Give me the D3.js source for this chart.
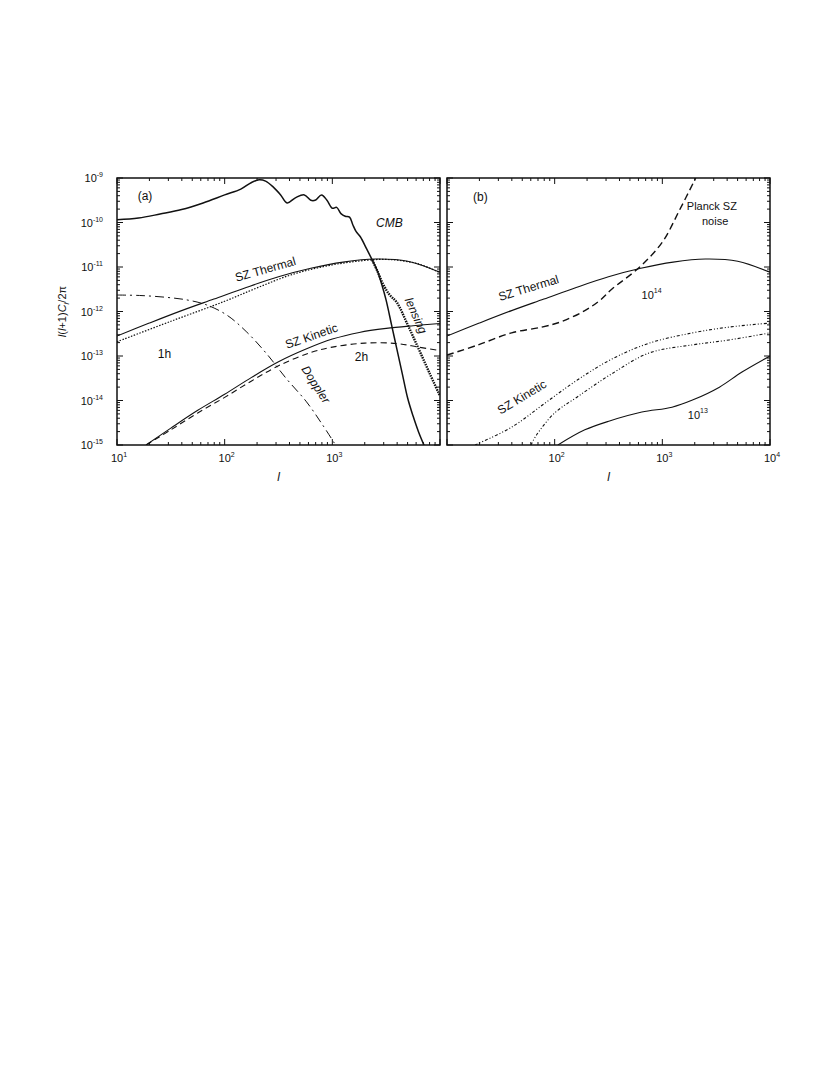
<!DOCTYPE html>
<html>
<head>
<meta charset="utf-8">
<script src="https://cdn.jsdelivr.net/npm/d3@7"></script>
<style>
  body { margin: 0; background: #fff; }
  svg text { font-family: "Liberation Sans", Arial, sans-serif; fill: #111; }
</style>
</head>
<body>
<script>
// Values: log10(l) and log10(l(l+1)C_l/2pi)

// panel (a)
var cmbLogL = [1.0, 1.2, 1.4, 1.6, 1.8, 2.0, 2.15, 2.25, 2.32, 2.38, 2.45, 2.52, 2.58, 2.66, 2.74, 2.8, 2.84, 2.9, 2.95, 3.0, 3.04, 3.08, 3.12, 3.16, 3.19, 3.22, 3.26, 3.32, 3.37, 3.42, 3.46, 3.5, 3.55, 3.6, 3.65, 3.7, 3.75, 3.8, 3.86];
var cmbLogC = [-9.94, -9.9, -9.81, -9.71, -9.56, -9.38, -9.25, -9.1, -9.04, -9.07, -9.2, -9.38, -9.56, -9.44, -9.38, -9.5, -9.5, -9.38, -9.5, -9.68, -9.66, -9.8, -9.86, -9.88, -10.05, -10.2, -10.32, -10.6, -10.84, -11.1, -11.4, -11.75, -12.3, -12.85, -13.4, -13.95, -14.35, -14.7, -15.05];

var lensLogL = [3.37, 3.42, 3.47, 3.53, 3.6, 3.7, 3.8, 3.9, 4.0];
var lensLogC = [-10.84, -11.1, -11.38, -11.62, -11.8, -12.3, -12.83, -13.37, -13.9];

var thermLogL = [1.0, 1.3, 1.6, 1.9, 2.2, 2.5, 2.8, 3.1, 3.4, 3.7, 4.0];
var thermLogC = [-12.55, -12.26, -11.98, -11.72, -11.46, -11.22, -11.03, -10.89, -10.82, -10.87, -11.12];

var therm1hLogL = [1.0, 1.5, 2.0, 2.3, 2.6, 2.9, 3.2, 3.5, 3.8, 4.0];
var therm1hLogC = [-12.68, -12.22, -11.77, -11.47, -11.19, -11.0, -10.88, -10.83, -10.93, -11.13];

var kinLogL = [1.27, 1.5, 1.75, 2.0, 2.25, 2.5, 2.75, 3.0, 3.25, 3.5, 3.75, 4.0];
var kinLogC = [-15.0, -14.62, -14.22, -13.86, -13.48, -13.13, -12.85, -12.62, -12.47, -12.38, -12.32, -12.27];

var kin2hLogL = [1.27, 1.5, 1.75, 2.0, 2.25, 2.5, 2.8, 3.0, 3.3, 3.6, 3.8, 4.0];
var kin2hLogC = [-15.0, -14.66, -14.28, -13.93, -13.56, -13.22, -12.92, -12.8, -12.71, -12.72, -12.8, -12.88];

var dopLogL = [1.0, 1.21, 1.45, 1.65, 1.83, 2.02, 2.2, 2.39, 2.57, 2.76, 2.91, 3.03];
var dopLogC = [-11.63, -11.64, -11.68, -11.74, -11.85, -12.08, -12.45, -12.95, -13.5, -14.03, -14.55, -15.0];

// panel (b)
var noiseLogL = [1.0, 1.29, 1.6, 1.88, 2.06, 2.28, 2.42, 2.53, 2.79, 3.0, 3.16, 3.31];
var noiseLogC = [-12.98, -12.75, -12.48, -12.35, -12.23, -11.98, -11.75, -11.5, -11.0, -10.44, -9.72, -9.0];

var kinHiLogL = [1.26, 1.6, 1.91, 2.21, 2.53, 2.88, 3.28, 3.62, 4.0];
var kinHiLogC = [-15.0, -14.6, -14.06, -13.54, -13.07, -12.71, -12.48, -12.35, -12.26];

var kinLoLogL = [1.78, 1.83, 2.0, 2.21, 2.53, 2.88, 3.28, 3.62, 4.0];
var kinLoLogC = [-15.0, -14.78, -14.28, -13.92, -13.4, -12.93, -12.75, -12.64, -12.48];

var m13LogL = [2.03, 2.28, 2.51, 2.81, 3.09, 3.28, 3.53, 3.74, 4.0];
var m13LogC = [-15.0, -14.66, -14.46, -14.26, -14.15, -13.99, -13.7, -13.36, -13.0];

// axis tick labels
var xDomain = [10, 1e4];
var yDomain = [1e-15, 1e-9];
var xLabelsA = [1, 2, 3];
var xLabelsB = [2, 3, 4];
var yLabelExps = [-9, -10, -11, -12, -13, -14, -15];

var width = 830, height = 1075;
var plotTop = 178, plotBottom = 445;

var svg = d3.select('body').append('svg')
  .attr('width', width).attr('height', height);

function pairs(ls, cs) {
  return ls.map(function (l, i) { return [Math.pow(10, l), Math.pow(10, cs[i])]; });
}

function makePanel(id, x0, x1) {
  var x = d3.scaleLog().domain(xDomain).range([x0, x1]);
  var y = d3.scaleLog().domain(yDomain).range([plotBottom, plotTop]);
  var g = svg.append('g');
  svg.append('clipPath').attr('id', 'clip' + id)
    .append('rect').attr('x', x0).attr('y', plotTop).attr('width', x1 - x0).attr('height', plotBottom - plotTop);
  var plot = g.append('g').attr('clip-path', 'url(#clip' + id + ')');
  var line = d3.line()
    .x(function (d) { return x(d[0]); })
    .y(function (d) { return y(d[1]); })
    .curve(d3.curveCatmullRom.alpha(0.5));

  // frame + inward ticks on all four sides
  g.append('rect').attr('x', x0).attr('y', plotTop).attr('width', x1 - x0).attr('height', plotBottom - plotTop)
    .attr('fill', 'none').attr('stroke', '#111').attr('stroke-width', 1.5);
  function isMajor(t) { var e = Math.log10(t); return Math.abs(e - Math.round(e)) < 1e-6; }
  x.ticks().forEach(function (t) {
    var len = isMajor(t) ? 6 : 3, px = x(t);
    g.append('line').attr('x1', px).attr('x2', px).attr('y1', plotBottom).attr('y2', plotBottom - len)
      .attr('stroke', '#111').attr('stroke-width', 1);
    g.append('line').attr('x1', px).attr('x2', px).attr('y1', plotTop).attr('y2', plotTop + len)
      .attr('stroke', '#111').attr('stroke-width', 1);
  });
  y.ticks().forEach(function (t) {
    var len = isMajor(t) ? 6 : 3, py = y(t);
    g.append('line').attr('x1', x0).attr('x2', x0 + len).attr('y1', py).attr('y2', py)
      .attr('stroke', '#111').attr('stroke-width', 1);
    g.append('line').attr('x1', x1).attr('x2', x1 - len).attr('y1', py).attr('y2', py)
      .attr('stroke', '#111').attr('stroke-width', 1);
  });

  function curve(ls, cs, w, dash) {
    plot.append('path').datum(pairs(ls, cs))
      .attr('d', line).attr('fill', 'none').attr('stroke', '#111')
      .attr('stroke-width', w).attr('stroke-dasharray', dash || null);
  }
  function label(txt, l, c, opts) {
    opts = opts || {};
    var t = g.append('text')
      .attr('transform', 'translate(' + x(l) + ',' + y(c) + ') rotate(' + (opts.rot || 0) + ')')
      .attr('text-anchor', 'middle').attr('dominant-baseline', 'middle')
      .attr('font-size', opts.size || 11.5)
      .attr('font-style', opts.italic ? 'italic' : null);
    if (opts.sup) {
      t.append('tspan').text(txt);
      t.append('tspan').attr('dy', -5).attr('font-size', 7).text(opts.sup);
    } else {
      t.text(txt);
    }
  }
  function xTickLabels(exps) {
    exps.forEach(function (e) {
      var t = g.append('text').attr('x', x(Math.pow(10, e)) + 2).attr('y', plotBottom + 17)
        .attr('text-anchor', 'middle').attr('font-size', 11);
      t.append('tspan').text('10');
      t.append('tspan').attr('dy', -5).attr('font-size', 7).text(e);
    });
    g.append('text').attr('x', (x0 + x1) / 2).attr('y', plotBottom + 36)
      .attr('text-anchor', 'middle').attr('font-size', 12).attr('font-style', 'italic').text('l');
  }
  return { x: x, y: y, g: g, curve: curve, label: label, xTickLabels: xTickLabels };
}

// ---- panel (a)
var pa = makePanel('a', 117, 440);
pa.curve(dopLogL, dopLogC, 1, '9,4,2,4');
pa.curve(kin2hLogL, kin2hLogC, 1.1, '6,4');
pa.curve(kinLogL, kinLogC, 1.1);
pa.curve(therm1hLogL, therm1hLogC, 1.2, '1.5,1.5');
pa.curve(thermLogL, thermLogC, 1.1);
pa.curve(lensLogL, lensLogC, 2.4, '1.5,1');
pa.curve(cmbLogL, cmbLogC, 1.5);

pa.label('(a)', Math.pow(10, 1.26), Math.pow(10, -9.43), { size: 12 });
pa.label('CMB', Math.pow(10, 3.53), Math.pow(10, -10.03), { italic: true, size: 12 });
pa.label('SZ Thermal', Math.pow(10, 2.38), Math.pow(10, -11.07), { rot: -16, size: 12 });
pa.label('SZ Kinetic', Math.pow(10, 2.81), Math.pow(10, -12.57), { rot: -19, size: 12 });
pa.label('1h', Math.pow(10, 1.44), Math.pow(10, -12.98), { size: 12 });
pa.label('2h', Math.pow(10, 3.27), Math.pow(10, -13.04), { size: 12 });
pa.label('Doppler', Math.pow(10, 2.84), Math.pow(10, -13.65), { rot: 57, italic: true, size: 12 });
pa.label('lensing', Math.pow(10, 3.77), Math.pow(10, -12.1), { rot: 66, italic: true, size: 12 });
pa.xTickLabels(xLabelsA);

// y tick labels on panel (a)
yLabelExps.forEach(function (e) {
  var t = pa.g.append('text').attr('x', 103).attr('y', pa.y(Math.pow(10, e)) + 4)
    .attr('text-anchor', 'end').attr('font-size', 11);
  t.append('tspan').text('10');
  t.append('tspan').attr('dy', -5).attr('font-size', 7).text(e);
});
var yl = svg.append('text').attr('transform', 'translate(66,' + ((plotTop + plotBottom) / 2) + ') rotate(-90)')
  .attr('text-anchor', 'middle').attr('font-size', 11);
yl.append('tspan').attr('font-style', 'italic').text('l');
yl.append('tspan').text('(');
yl.append('tspan').attr('font-style', 'italic').text('l');
yl.append('tspan').text('+1)');
yl.append('tspan').attr('font-style', 'italic').text('C');
yl.append('tspan').attr('font-style', 'italic').attr('dy', 3).attr('font-size', 8).text('l');
yl.append('tspan').attr('dy', -3).text('/2π');

// ---- panel (b)
var pb = makePanel('b', 447, 770);
pb.curve(noiseLogL, noiseLogC, 1.4, '7,4');
pb.curve(thermLogL, thermLogC, 1.1);
pb.curve(kinHiLogL, kinHiLogC, 1.1, '3,2,1,2,1,2');
pb.curve(kinLoLogL, kinLoLogC, 1.1, '3,2,1,2,1,2');
pb.curve(m13LogL, m13LogC, 1.1);

pb.label('(b)', Math.pow(10, 1.31), Math.pow(10, -9.45), { size: 12 });
pb.label('Planck SZ', Math.pow(10, 3.46), Math.pow(10, -9.65), { size: 11 });
pb.label('noise', Math.pow(10, 3.49), Math.pow(10, -9.99), { size: 11 });
pb.label('SZ Thermal', Math.pow(10, 1.76), Math.pow(10, -11.49), { rot: -17, size: 12 });
pb.label('SZ Kinetic', Math.pow(10, 1.70), Math.pow(10, -13.94), { rot: -31, size: 12 });
pb.label('10', Math.pow(10, 2.9), Math.pow(10, -11.65), { sup: '14', size: 11 });
pb.label('10', Math.pow(10, 3.33), Math.pow(10, -14.35), { sup: '13', size: 11 });
pb.xTickLabels(xLabelsB);
</script>
</body>
</html>
